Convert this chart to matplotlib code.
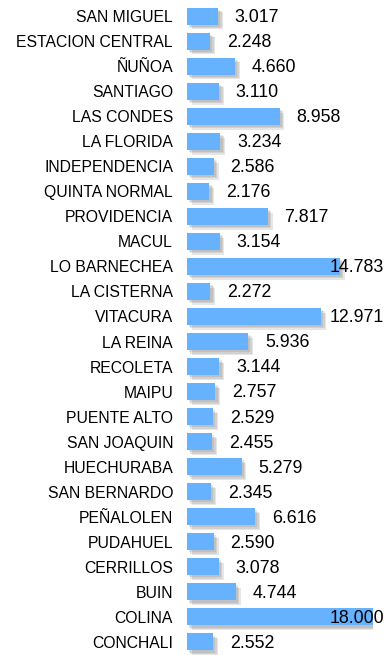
import matplotlib.pyplot as plt
import matplotlib.patheffects as pe

plt.rcParams['font.family'] = ['Liberation Sans', 'DejaVu Sans']

comunas = ['SAN MIGUEL', 'ESTACION CENTRAL', 'ÑUÑOA', 'SANTIAGO', 'LAS CONDES',
           'LA FLORIDA', 'INDEPENDENCIA', 'QUINTA NORMAL', 'PROVIDENCIA', 'MACUL',
           'LO BARNECHEA', 'LA CISTERNA', 'VITACURA', 'LA REINA', 'RECOLETA',
           'MAIPU', 'PUENTE ALTO', 'SAN JOAQUIN', 'HUECHURABA', 'SAN BERNARDO',
           'PEÑALOLEN', 'PUDAHUEL', 'CERRILLOS', 'BUIN', 'COLINA', 'CONCHALI']
valores = [3.017, 2.248, 4.660, 3.110, 8.958,
           3.234, 2.586, 2.176, 7.817, 3.154,
           14.783, 2.272, 12.971, 5.936, 3.144,
           2.757, 2.529, 2.455, 5.279, 2.345,
           6.616, 2.590, 3.078, 4.744, 18.000, 2.552]

fig = plt.figure(figsize=(3.86, 6.55), dpi=100)
ax = fig.add_axes([187 / 386, 1 - 654.5 / 655, 186 / 386, 651 / 655])

pos = list(range(len(comunas)))
bars = ax.barh(pos, valores, height=0.68, color='#66b2ff', zorder=2)

# sombra difusa: varias capas desplazadas con poca opacidad
sombra = [pe.SimplePatchShadow(offset=(d, -d), shadow_rgbFace='#777777', alpha=0.18)
          for d in (3.5, 2.5, 1.5)]
for b in bars:
    b.set_path_effects(sombra + [pe.Normal()])

ax.set_xlim(0, 18)
ax.set_ylim(len(comunas) - 0.5, -0.5)
ax.set_yticks(pos)
ax.set_yticklabels(comunas, fontsize=11.3)
ax.tick_params(axis='y', length=0, pad=10)
ax.set_xticks([])
for s in ax.spines.values():
    s.set_visible(False)

# etiquetas de valor: a la derecha de la barra, o pegadas al borde si no caben
for i, v in enumerate(valores):
    txt = '{:.3f}'.format(v)
    if v > 12:
        ax.annotate(txt, xy=(1, i), xycoords=('axes fraction', 'data'),
                    xytext=(8, -1), textcoords='offset points',
                    ha='right', va='center', fontsize=12.8)
    else:
        ax.annotate(txt, xy=(v, i), xytext=(12, -1), textcoords='offset points',
                    ha='left', va='center', fontsize=12.8)

fig.savefig('out.png', dpi=100)
